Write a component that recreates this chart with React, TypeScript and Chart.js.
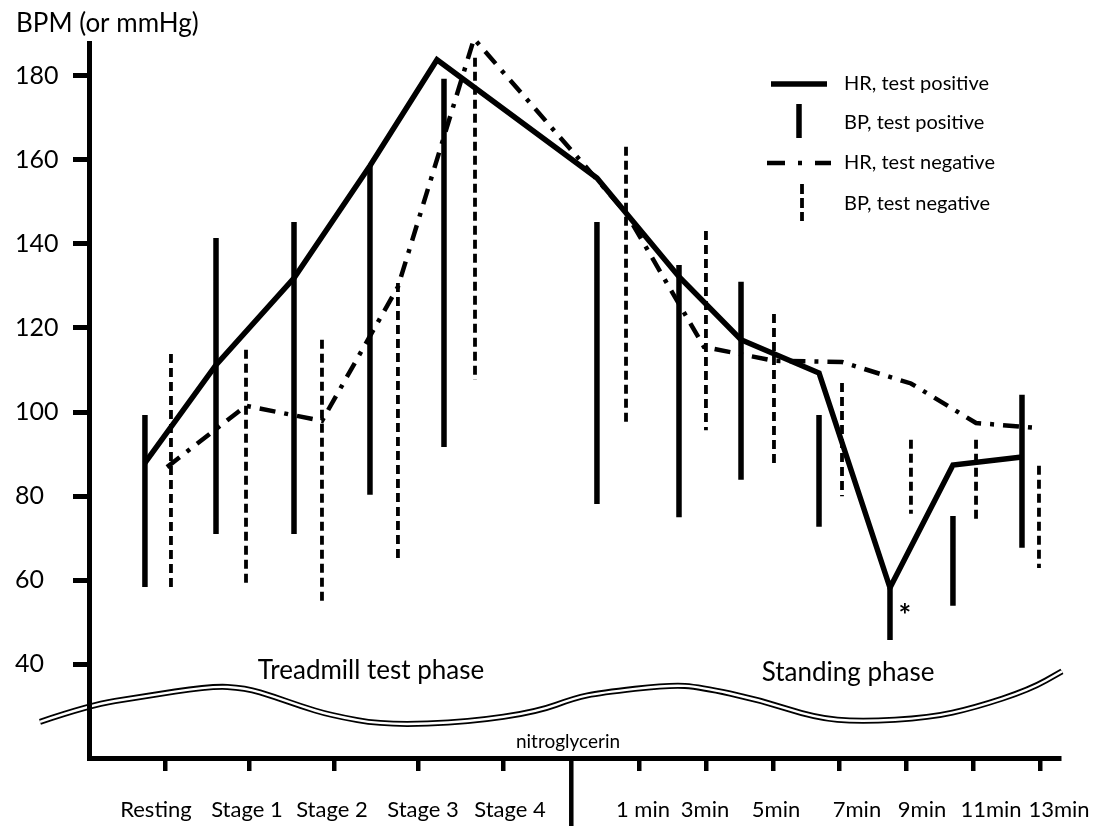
import React, { useEffect, useRef } from "react";
import { Chart, registerables } from "chart.js";

Chart.register(...registerables);

// ---------- data ----------
const treadmillStages = ["Resting", "Stage 1", "Stage 2", "Stage 3", "Stage 4"];
const standingMinutes = [1, 3, 5, 7, 9, 11, 13];
const standingLabels = ["1 min", "3min", "5min", "7min", "9min", "11min", "13min"];
const yTickValues = [40, 60, 80, 100, 120, 140, 160, 180];

// x in axis units: Resting = 0, one treadmill stage = 1
const hrPosX = [-0.237, 0.604, 1.527, 2.426, 3.219, 5.112, 6.083, 6.817, 7.74, 8.58, 9.325, 10.142];
const hrPos = [87.9, 111.2, 131.9, 158.6, 183.8, 155.7, 132.2, 117.2, 109.3, 58.2, 87.4, 89.3];

const bpPosX = [-0.237, 0.604, 1.527, 2.426, 3.302, 5.112, 6.083, 6.817, 7.74, 8.58, 9.325, 10.142];
const bpPosHigh = [99.3, 141.4, 145.2, 158.8, 179.3, 145.2, 135.0, 131.0, 99.3, 58.2, 75.3, 104.1];
const bpPosLow = [58.4, 71.0, 71.0, 80.3, 91.7, 78.1, 75.0, 83.9, 72.7, 45.8, 53.9, 67.7];

const hrNegX = [0.024, 0.959, 1.858, 2.757, 3.657, 5.456, 6.379, 7.207, 8.012, 8.828, 9.598, 10.343];
const hrNeg = [86.9, 101.5, 97.9, 129.8, 188.8, 147.4, 115.5, 112.2, 111.9, 106.8, 97.4, 96.2];

const bpNegX = [0.071, 0.959, 1.858, 2.757, 3.669, 5.456, 6.402, 7.207, 8.012, 8.828, 9.598, 10.343];
const bpNegHigh = [113.8, 114.8, 117.2, 130.7, 184.3, 163.1, 143.1, 123.3, 106.9, 93.4, 93.4, 87.2];
const bpNegLow = [57.4, 58.4, 54.1, 64.1, 107.6, 97.4, 95.7, 86.7, 80.0, 75.8, 73.9, 62.9];

// axis-break squiggle (axis units)
const breakLineX = [-1.479, -0.888, -0.296, 0.533, 0.947, 1.302, 1.598, 1.953, 2.604, 3.609, 4.402, 4.852, 5.148, 5.976, 6.331, 7.041, 7.692, 8.225, 9.053, 9.586, 10.237, 10.615];
const breakLineY = [26.3, 30.3, 32.2, 34.8, 34.4, 32.2, 30.1, 27.9, 25.5, 26.3, 28.7, 32.0, 33.2, 35.1, 34.6, 31.5, 27.3, 26.3, 27.3, 29.7, 34.0, 38.3];

// ---------- layout ----------
const FONT = "Lato, 'Noto Sans', sans-serif";
const X_MIN = -0.899;
const X_MAX = 10.58;
const Y_MIN = 17.7;
const Y_MAX = 187.8;
const standingPos = (m: number) => 7.985 + (m - 7) * 0.3947;
const tickPositions = [...treadmillStages.map((_, i) => i), ...standingMinutes.map(standingPos)];
const allLabels = [...treadmillStages, ...standingLabels];
const labelPositions = [-0.107, 0.97, 1.976, 3.053, 4.083, 5.657, 6.391, 7.231, 8.189, 8.959, 9.775, 10.58];

const barPoints = (xs: number[], hi: number[], lo: number[]) => {
  const out: { x: number; y: number | null }[] = [];
  xs.forEach((x, i) => {
    out.push({ x, y: hi[i] });
    out.push({ x, y: lo[i] });
    out.push({ x, y: null });
  });
  return out;
};

const decor = {
  id: "decor",
  beforeDraw(chart: any) {
    const { ctx } = chart;
    const xs = chart.scales.x;
    const ys = chart.scales.y;
    const pts = breakLineX.map((u, i) => [xs.getPixelForValue(u), ys.getPixelForValue(breakLineY[i])]);
    ctx.save();
    ctx.beginPath();
    ctx.moveTo(pts[0][0], pts[0][1]);
    for (let i = 1; i < pts.length - 1; i++) {
      const mx = (pts[i][0] + pts[i + 1][0]) / 2;
      const my = (pts[i][1] + pts[i + 1][1]) / 2;
      ctx.quadraticCurveTo(pts[i][0], pts[i][1], mx, my);
    }
    ctx.lineTo(pts[pts.length - 1][0], pts[pts.length - 1][1]);
    ctx.lineJoin = "round";
    ctx.strokeStyle = "#000";
    ctx.lineWidth = 6;
    ctx.stroke();
    ctx.strokeStyle = "#fff";
    ctx.lineWidth = 2.4;
    ctx.stroke();
    ctx.restore();
  },
  afterDraw(chart: any) {
    const { ctx, chartArea } = chart;
    const xs = chart.scales.x;
    const ys = chart.scales.y;
    ctx.save();
    ctx.fillStyle = "#000";
    ctx.strokeStyle = "#000";

    // axis title
    ctx.font = `26px ${FONT}`;
    ctx.textAlign = "left";
    ctx.textBaseline = "alphabetic";
    ctx.fillText("BPM (or mmHg)", 16, 32);

    // y tick labels (left aligned, as in the original figure)
    ctx.font = `25px ${FONT}`;
    ctx.textBaseline = "middle";
    ys.ticks.forEach((t: any) => {
      ctx.fillText(String(t.value), 15, ys.getPixelForValue(t.value));
    });

    // phase texts
    ctx.textBaseline = "alphabetic";
    ctx.font = `26px ${FONT}`;
    ctx.textAlign = "center";
    ctx.fillText("Treadmill test phase", 371, 679);
    ctx.fillText("Standing phase", 848, 681);
    ctx.font = `19px ${FONT}`;
    ctx.fillText("nitroglycerin", 568, 748);

    // phase divider
    const divX = xs.getPixelForValue((tickPositions[4] + tickPositions[5]) / 2);
    ctx.lineWidth = 4.5;
    ctx.beginPath();
    ctx.moveTo(divX, chartArea.bottom);
    ctx.lineTo(divX, chart.height);
    ctx.stroke();

    // asterisk at HR positive minimum
    let minI = 0;
    hrPos.forEach((v, i) => { if (v < hrPos[minI]) minI = i; });
    const ax = xs.getPixelForValue(hrPosX[minI]);
    const ay = ys.getPixelForValue(hrPos[minI]);
    ctx.font = `bold 30px ${FONT}`;
    ctx.textAlign = "center";
    ctx.fillText("*", ax + 15, ay + 38);

    // legend
    const ds = chart.data.datasets;
    const drawSample = (d: any, x1: number, y1: number, x2: number, y2: number) => {
      ctx.save();
      ctx.lineWidth = d.borderWidth;
      ctx.setLineDash(d.legendDash || d.borderDash || []);
      ctx.lineCap = "butt";
      ctx.beginPath();
      ctx.moveTo(x1, y1);
      ctx.lineTo(x2, y2);
      ctx.stroke();
      ctx.restore();
    };
    drawSample(ds[0], 771, 84, 827, 84);
    drawSample(ds[1], 799, 104, 799, 138);
    drawSample(ds[2], 767, 163, 831, 163);
    drawSample(ds[3], 802, 184, 802, 221);
    ctx.font = `20px ${FONT}`;
    ctx.textAlign = "left";
    ctx.textBaseline = "middle";
    const ly = [84, 123, 163, 204];
    ds.forEach((d: any, i: number) => ctx.fillText(d.label, 844, ly[i]));
    ctx.restore();
  },
};

export default function App() {
  const ref = useRef<HTMLCanvasElement | null>(null);

  useEffect(() => {
    if (!ref.current) return;
    Chart.defaults.font.family = FONT;
    const chart = new Chart(ref.current, {
      type: "line",
      data: {
        datasets: [
          {
            label: "HR, test positive",
            data: hrPos.map((y, i) => ({ x: hrPosX[i], y })),
            borderColor: "#000",
            borderWidth: 5.5,
            borderJoinStyle: "miter",
            pointRadius: 0,
            tension: 0,
            clip: false,
            xAxisID: "x",
            yAxisID: "y",
          },
          {
            label: "BP, test positive",
            data: barPoints(bpPosX, bpPosHigh, bpPosLow),
            borderColor: "#000",
            borderWidth: 5.5,
            borderCapStyle: "butt",
            pointRadius: 0,
            spanGaps: false,
            clip: false,
            xAxisID: "x",
            yAxisID: "y",
          },
          {
            label: "HR, test negative",
            data: hrNeg.map((y, i) => ({ x: hrNegX[i], y })),
            borderColor: "#000",
            borderWidth: 4.5,
            borderDash: [16, 9, 4, 9],
            legendDash: [18, 13, 4, 13],
            borderJoinStyle: "miter",
            pointRadius: 0,
            tension: 0,
            clip: false,
            xAxisID: "x",
            yAxisID: "y",
          },
          {
            label: "BP, test negative",
            data: barPoints(bpNegX, bpNegHigh, bpNegLow),
            borderColor: "#000",
            borderWidth: 3.8,
            borderDash: [9, 5],
            legendDash: [10, 4],
            borderCapStyle: "butt",
            pointRadius: 0,
            spanGaps: false,
            clip: false,
            xAxisID: "x",
            yAxisID: "y",
          },
        ] as any,
      },
      options: {
        animation: false,
        responsive: false,
        maintainAspectRatio: false,
        layout: { padding: { top: 43, right: 50, left: 0, bottom: 0 } },
        plugins: { legend: { display: false }, tooltip: { enabled: false } },
        scales: {
          x: {
            type: "linear",
            position: "bottom",
            min: X_MIN,
            max: X_MAX,
            weight: 1,
            afterBuildTicks: (s: any) => {
              s.ticks = tickPositions.map((v) => ({ value: v }));
            },
            afterFit: (s: any) => {
              s.height = 20;
            },
            grid: { drawOnChartArea: false, drawTicks: true, tickLength: 13, lineWidth: 4.5, color: "#000" },
            border: { display: true, color: "#000", width: 5 },
            ticks: { display: false },
          },
          xl: {
            type: "linear",
            position: "bottom",
            axis: "x",
            min: X_MIN,
            max: X_MAX,
            weight: 2,
            afterBuildTicks: (s: any) => {
              s.ticks = labelPositions.map((v) => ({ value: v }));
            },
            afterFit: (s: any) => {
              s.height = 48;
            },
            grid: { display: false, drawTicks: false },
            border: { display: false },
            ticks: {
              autoSkip: false,
              maxRotation: 0,
              padding: 19,
              color: "#000",
              font: { size: 22, family: FONT },
              callback: (_v: any, i: number) => allLabels[i],
            },
          },
          y: {
            type: "linear",
            position: "left",
            min: Y_MIN,
            max: Y_MAX,
            afterBuildTicks: (s: any) => {
              s.ticks = yTickValues.map((v) => ({ value: v }));
            },
            afterFit: (s: any) => {
              s.width = 89;
            },
            grid: { drawOnChartArea: false, drawTicks: true, tickLength: 16, lineWidth: 5, color: "#000" },
            border: { display: true, color: "#000", width: 5 },
            ticks: { display: false },
          },
        },
      } as any,
      plugins: [decor as any],
    });
    return () => chart.destroy();
  }, []);

  return (
    <div style={{ position: "fixed", left: 0, top: 0, width: 1109, height: 826, background: "#fff" }}>
      <canvas ref={ref} width={1109} height={826} style={{ width: 1109, height: 826, display: "block" }} />
    </div>
  );
}
